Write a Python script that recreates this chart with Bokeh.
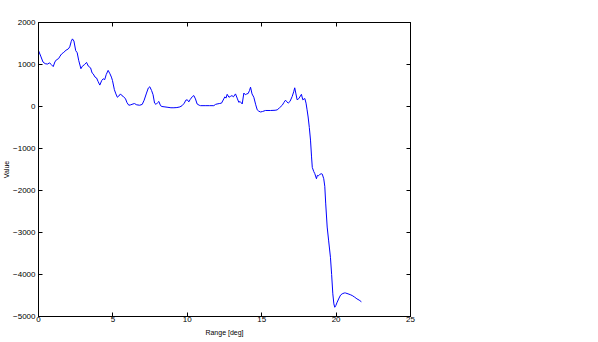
from bokeh.plotting import figure
from bokeh.models import LinearAxis, FixedTicker, Range1d, CustomJSTickFormatter
from bokeh.embed import file_html
from bokeh.resources import INLINE

# Data
range_deg = [
    0.0, 0.15, 0.3, 0.45, 0.6, 0.75, 0.85, 0.99, 1.1, 1.2, 1.35, 1.45, 1.55, 1.7, 1.85, 2.0,
    2.1, 2.2, 2.28, 2.38, 2.5, 2.6, 2.7, 2.85, 2.95, 3.1, 3.23, 3.35, 3.5, 3.6, 3.67, 3.8,
    3.9, 4.0, 4.12, 4.25, 4.35, 4.45, 4.55, 4.68, 4.8, 4.9, 4.97, 5.1, 5.2, 5.3, 5.4, 5.51,
    5.6, 5.7, 5.85, 5.95, 6.07, 6.2, 6.35, 6.45, 6.6, 6.8, 6.97, 7.1, 7.26, 7.38, 7.48, 7.6,
    7.7, 7.8, 7.9, 8.0, 8.09, 8.2, 8.3, 8.5, 8.7, 8.9, 9.1, 9.3, 9.5, 9.65, 9.8, 9.9,
    10.0, 10.1, 10.2, 10.35, 10.44, 10.55, 10.66, 10.8, 10.89, 11.2, 11.5, 11.78, 11.9, 12.0,
    12.15, 12.3, 12.45, 12.52, 12.6, 12.68, 12.8, 12.9, 13.0, 13.1, 13.24, 13.35, 13.46, 13.55,
    13.69, 13.8, 13.9, 14.0, 14.09, 14.18, 14.25, 14.35, 14.47, 14.6, 14.7, 14.8, 14.92, 15.05,
    15.25, 15.6, 15.9, 16.04, 16.2, 16.38, 16.5, 16.6, 16.7, 16.78, 16.9, 17.05, 17.15, 17.22,
    17.3, 17.38, 17.5, 17.6, 17.67, 17.76, 17.9, 17.98, 18.05, 18.12, 18.2, 18.28, 18.35, 18.4,
    18.5, 18.57, 18.68, 18.74, 18.8, 18.9, 19.0, 19.07, 19.17, 19.24, 19.3, 19.4, 19.5, 19.62,
    19.7, 19.78, 19.85, 19.91, 19.98, 20.07, 20.2, 20.3, 20.41, 20.55, 20.63, 20.8, 20.95, 21.08,
    21.25, 21.4, 21.55, 21.7,
]
values = [
    1330, 1200, 1060, 1020, 1010, 1040, 1000, 950, 1060, 1110, 1140, 1200, 1250, 1290, 1340, 1370,
    1420, 1550, 1610, 1560, 1330, 1280, 1100, 900, 960, 1000, 1050, 960, 920, 800, 780, 700,
    680, 600, 510, 620, 660, 640, 760, 860, 780, 700, 620, 400, 300, 220, 250, 300,
    260, 240, 180, 90, 30, 40, 60, 70, 40, 30, 50, 150, 320, 440, 470, 380,
    280, 80, 50, 90, 120, 20, 0, -10, -20, -30, -30, -25, -10, 20, 80, 150,
    160, 110, 170, 240, 260, 180, 60, 30, 20, 20, 20, 20, 50, 60,
    70, 80, 180, 230, 200, 290, 220, 240, 260, 230, 300, 200, 100, 120,
    60, 320, 280, 300, 310, 380, 460, 300, 220, 40, -80, -110, -130, -120,
    -95, -95, -90, -80, -30, 30, 100, 150, 110, 80, 120, 240, 350, 445,
    300, 160, 190, 250, 290, 160, 190, 80, -80, -250, -500, -800, -1200, -1450,
    -1550, -1600, -1720, -1640, -1650, -1620, -1600, -1610, -1720, -1900, -2300, -2870, -3200, -3590,
    -4000, -4460, -4700, -4780, -4740, -4660, -4560, -4490, -4460, -4440, -4440, -4460, -4480, -4500,
    -4540, -4580, -4610, -4650,
]
x_ticks = [0, 5, 10, 15, 20, 25]
y_ticks = [-5000, -4000, -3000, -2000, -1000, 0, 1000, 2000]
x_label = "Range [deg]"
y_label = "Value"

FONT = "Liberation Sans"

p = figure(width=598, height=342, x_range=Range1d(0, 25), y_range=Range1d(-5000, 2000),
           output_backend="svg", toolbar_location=None,
           min_border_left=38, min_border_right=188, min_border_top=22, min_border_bottom=26)
p.background_fill_color = "white"
p.border_fill_color = "white"
p.outline_line_color = "black"
p.outline_line_width = 1
p.xgrid.visible = False
p.ygrid.visible = False

p.line(range_deg, values, line_color="#0000ff", line_width=1)


def style(ax):
    ax.axis_line_color = "black"
    ax.major_tick_line_color = "black"
    ax.major_tick_in = 4
    ax.major_tick_out = 0
    ax.minor_tick_in = 0
    ax.minor_tick_out = 0
    ax.major_label_text_font = FONT
    ax.major_label_text_font_size = "8px"
    ax.major_label_text_color = "black"
    ax.axis_label_text_font = FONT
    ax.axis_label_text_font_size = "7px"
    ax.axis_label_text_font_style = "normal"
    ax.axis_label_text_color = "black"


xa = p.xaxis[0]
ya = p.yaxis[0]
xa.ticker = FixedTicker(ticks=x_ticks)
ya.ticker = FixedTicker(ticks=y_ticks)
style(xa)
style(ya)
xa.axis_label = x_label
ya.axis_label = y_label
xa.major_label_standoff = 0
xa.axis_label_standoff = 4
ya.major_label_standoff = 3
ya.axis_label_standoff = 0

empty = CustomJSTickFormatter(code="return ''")
top = LinearAxis(ticker=FixedTicker(ticks=x_ticks), formatter=empty)
right = LinearAxis(ticker=FixedTicker(ticks=y_ticks), formatter=empty)
style(top)
style(right)
top.major_label_standoff = 0
right.major_label_standoff = 0
p.add_layout(top, "above")
p.add_layout(right, "right")

open("out.html", "w").write(file_html(p, INLINE))
